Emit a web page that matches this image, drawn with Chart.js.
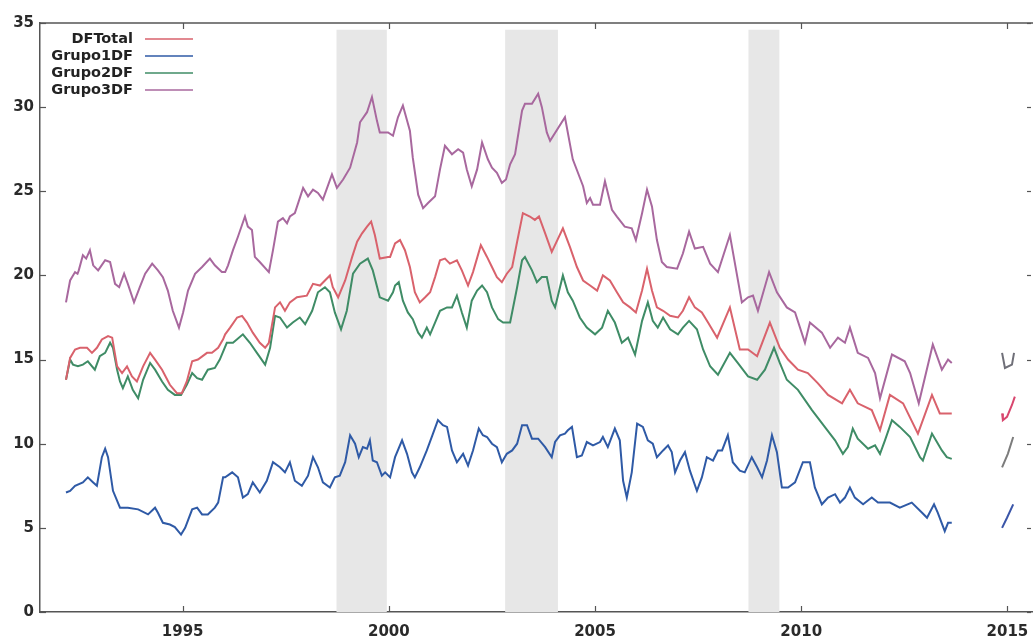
<!DOCTYPE html>
<html>
<head>
<meta charset="utf-8">
<script src="https://cdn.jsdelivr.net/npm/chart.js@4.4.1/dist/chart.umd.min.js"></script>
<style>
html,body{margin:0;padding:0;background:#fff;overflow:hidden}
canvas{display:block}
</style>
</head>
<body>
<canvas id="c" width="1033" height="641"></canvas>
<script>
// ---------- DATA (year, value) ----------
const seriesNames = ['DFTotal', 'Grupo1DF', 'Grupo2DF', 'Grupo3DF'];

const dfTotal = [
[1992.17,13.8],[1992.27,15.1],[1992.39,15.6],[1992.51,15.7],[1992.68,15.7],[1992.80,15.4],[1992.92,15.7],[1993.04,16.2],
[1993.19,16.4],[1993.29,16.3],[1993.41,14.6],[1993.53,14.2],[1993.65,14.6],[1993.77,14.0],[1993.89,13.7],[1994.04,14.6],
[1994.21,15.4],[1994.33,15.0],[1994.50,14.4],[1994.69,13.5],[1994.86,13.0],[1994.98,13.0],[1995.10,13.7],[1995.23,14.9],
[1995.37,15.0],[1995.59,15.4],[1995.71,15.4],[1995.86,15.7],[1995.98,16.2],[1996.03,16.5],[1996.15,16.9],[1996.32,17.5],
[1996.44,17.6],[1996.56,17.2],[1996.70,16.6],[1996.87,16.0],[1997.00,15.7],[1997.09,16.0],[1997.24,18.1],[1997.36,18.4],
[1997.48,17.9],[1997.60,18.4],[1997.77,18.7],[1998.01,18.8],[1998.16,19.5],[1998.33,19.4],[1998.45,19.7],[1998.57,20.0],
[1998.64,19.3],[1998.77,18.7],[1998.94,19.7],[1999.11,21.1],[1999.23,22.0],[1999.35,22.5],[1999.47,22.9],[1999.57,23.2],
[1999.66,22.4],[1999.78,21.0],[1999.98,21.1],[2000.03,21.1],[2000.15,21.9],[2000.27,22.1],[2000.39,21.5],[2000.51,20.5],
[2000.63,19.0],[2000.75,18.4],[2000.88,18.7],[2001.00,19.0],[2001.12,19.9],[2001.24,20.9],[2001.36,21.0],[2001.48,20.7],
[2001.65,20.9],[2001.77,20.3],[2001.92,19.4],[2002.04,20.2],[2002.23,21.8],[2002.38,21.1],[2002.50,20.5],[2002.62,19.9],
[2002.74,19.6],[2002.86,20.1],[2002.99,20.5],[2003.11,22.0],[2003.25,23.7],[2003.42,23.5],[2003.54,23.3],[2003.64,23.5],
[2003.79,22.5],[2003.95,21.4],[2004.22,22.8],[2004.39,21.7],[2004.56,20.5],[2004.71,19.7],[2004.88,19.4],[2005.05,19.1],
[2005.19,20.0],[2005.36,19.7],[2005.53,19.0],[2005.68,18.4],[2005.85,18.1],[2005.99,17.8],[2006.14,19.1],[2006.26,20.4],
[2006.38,19.1],[2006.50,18.1],[2006.65,17.9],[2006.82,17.6],[2007.01,17.5],[2007.13,17.9],[2007.28,18.7],[2007.42,18.1],
[2007.59,17.8],[2007.74,17.2],[2007.96,16.3],[2008.27,18.1],[2008.51,15.6],[2008.71,15.6],[2008.93,15.2],[2009.24,17.2],
[2009.48,15.7],[2009.68,15.0],[2009.92,14.4],[2010.16,14.2],[2010.40,13.6],[2010.65,12.9],[2010.99,12.4],[2011.18,13.2],
[2011.37,12.4],[2011.71,12.0],[2011.91,10.8],[2012.15,12.9],[2012.47,12.4],[2012.83,10.6],[2013.17,12.9],[2013.36,11.8],
[2013.65,11.8]
];

const grupo1DF = [
[1992.17,7.1],[1992.27,7.2],[1992.39,7.5],[1992.58,7.7],[1992.70,8.0],[1992.83,7.7],[1992.92,7.5],[1993.04,9.2],
[1993.12,9.7],[1993.19,9.2],[1993.31,7.2],[1993.48,6.2],[1993.67,6.2],[1993.92,6.1],[1994.16,5.8],[1994.33,6.2],
[1994.40,5.9],[1994.52,5.3],[1994.69,5.2],[1994.81,5.05],[1994.96,4.6],[1995.06,5.0],[1995.23,6.1],[1995.35,6.2],
[1995.47,5.8],[1995.61,5.8],[1995.78,6.2],[1995.86,6.5],[1995.98,8.0],[1996.03,8.0],[1996.20,8.3],[1996.34,8.0],
[1996.46,6.8],[1996.58,7.0],[1996.70,7.7],[1996.87,7.1],[1997.04,7.8],[1997.19,8.9],[1997.36,8.6],[1997.48,8.3],
[1997.60,8.9],[1997.72,7.8],[1997.89,7.5],[1998.04,8.1],[1998.16,9.2],[1998.28,8.6],[1998.40,7.7],[1998.57,7.4],
[1998.69,8.0],[1998.81,8.1],[1998.94,8.9],[1999.06,10.5],[1999.18,10.0],[1999.27,9.2],[1999.37,9.8],[1999.47,9.7],
[1999.54,10.2],[1999.61,9.0],[1999.71,8.9],[1999.83,8.1],[1999.91,8.3],[2000.03,8.0],[2000.15,9.2],[2000.32,10.2],
[2000.44,9.4],[2000.56,8.3],[2000.63,8.0],[2000.75,8.6],[2000.92,9.6],[2001.07,10.6],[2001.19,11.4],[2001.31,11.1],
[2001.41,11.0],[2001.53,9.6],[2001.65,8.9],[2001.80,9.4],[2001.92,8.7],[2002.04,9.6],[2002.18,10.9],[2002.28,10.5],
[2002.38,10.4],[2002.50,10.0],[2002.62,9.8],[2002.74,8.9],[2002.86,9.4],[2002.99,9.6],[2003.11,10.0],[2003.23,11.1],
[2003.35,11.1],[2003.47,10.3],[2003.62,10.3],[2003.79,9.8],[2003.95,9.2],[2004.03,10.1],[2004.15,10.5],[2004.27,10.6],
[2004.34,10.8],[2004.44,11.0],[2004.56,9.2],[2004.68,9.3],[2004.80,10.1],[2004.95,9.9],[2005.12,10.1],[2005.19,10.4],
[2005.31,9.8],[2005.48,10.9],[2005.60,10.2],[2005.68,7.8],[2005.77,6.8],[2005.89,8.3],[2006.02,11.2],[2006.16,11.0],
[2006.28,10.2],[2006.40,10.0],[2006.50,9.2],[2006.65,9.6],[2006.77,9.9],[2006.86,9.5],[2006.94,8.3],[2007.06,9.0],
[2007.18,9.5],[2007.30,8.4],[2007.47,7.2],[2007.59,8.0],[2007.71,9.2],[2007.86,9.0],[2007.98,9.6],[2008.08,9.6],
[2008.22,10.5],[2008.34,8.9],[2008.51,8.4],[2008.63,8.3],[2008.80,9.2],[2008.93,8.6],[2009.05,8.0],[2009.17,9.0],
[2009.29,10.5],[2009.41,9.5],[2009.53,7.4],[2009.68,7.4],[2009.85,7.7],[2010.04,8.9],[2010.21,8.9],[2010.33,7.4],
[2010.50,6.4],[2010.65,6.8],[2010.82,7.0],[2010.94,6.5],[2011.06,6.8],[2011.18,7.4],[2011.30,6.8],[2011.50,6.4],
[2011.71,6.8],[2011.86,6.5],[2012.15,6.5],[2012.39,6.2],[2012.68,6.5],[2012.93,5.9],[2013.05,5.6],[2013.22,6.4],
[2013.31,5.9],[2013.48,4.8],[2013.56,5.3],[2013.65,5.3]
];

const grupo2DF = [
[1992.17,13.8],[1992.27,15.0],[1992.34,14.7],[1992.46,14.6],[1992.58,14.7],[1992.70,14.9],[1992.87,14.4],[1992.99,15.2],
[1993.12,15.4],[1993.24,16.0],[1993.31,15.7],[1993.41,14.4],[1993.48,13.7],[1993.55,13.3],[1993.67,14.0],[1993.79,13.2],
[1993.92,12.7],[1994.04,13.8],[1994.21,14.8],[1994.33,14.4],[1994.50,13.7],[1994.64,13.2],[1994.81,12.9],[1994.96,12.9],
[1995.10,13.5],[1995.23,14.2],[1995.35,13.9],[1995.47,13.8],[1995.61,14.4],[1995.78,14.5],[1995.90,15.0],[1996.07,16.0],
[1996.22,16.0],[1996.46,16.5],[1996.63,16.0],[1996.80,15.4],[1997.00,14.7],[1997.12,15.7],[1997.24,17.6],[1997.36,17.5],
[1997.53,16.9],[1997.67,17.2],[1997.84,17.5],[1997.97,17.1],[1998.14,17.9],[1998.28,19.0],[1998.45,19.3],[1998.57,19.0],
[1998.69,17.8],[1998.84,16.8],[1998.98,17.9],[1999.13,20.1],[1999.30,20.7],[1999.49,21.0],[1999.61,20.3],[1999.78,18.7],
[1999.98,18.5],[2000.10,19.0],[2000.15,19.4],[2000.24,19.6],[2000.34,18.5],[2000.46,17.8],[2000.58,17.4],[2000.71,16.6],
[2000.80,16.3],[2000.92,16.9],[2001.00,16.5],[2001.12,17.2],[2001.24,17.9],[2001.41,18.1],[2001.53,18.1],[2001.65,18.8],
[2001.77,17.8],[2001.89,16.9],[2002.01,18.5],[2002.14,19.1],[2002.26,19.4],[2002.38,19.0],[2002.50,18.1],[2002.65,17.4],
[2002.77,17.2],[2002.94,17.2],[2003.11,19.3],[2003.23,20.9],[2003.30,21.1],[2003.47,20.3],[2003.59,19.6],[2003.71,19.9],
[2003.83,19.9],[2003.95,18.5],[2004.03,18.1],[2004.22,20.0],[2004.34,19.0],[2004.46,18.5],[2004.63,17.5],[2004.80,16.9],
[2005.00,16.5],[2005.17,16.9],[2005.31,17.9],[2005.48,17.2],[2005.65,16.0],[2005.80,16.3],[2005.97,15.3],[2006.14,17.3],
[2006.28,18.4],[2006.40,17.3],[2006.52,16.9],[2006.65,17.5],[2006.82,16.8],[2007.01,16.5],[2007.13,16.9],[2007.28,17.3],
[2007.47,16.8],[2007.62,15.6],[2007.79,14.6],[2007.98,14.1],[2008.27,15.4],[2008.46,14.8],[2008.71,14.0],[2008.93,13.8],
[2009.12,14.4],[2009.34,15.7],[2009.48,14.8],[2009.65,13.8],[2009.92,13.2],[2010.26,12.0],[2010.57,11.0],[2010.82,10.2],
[2011.01,9.4],[2011.13,9.8],[2011.25,10.9],[2011.37,10.3],[2011.62,9.7],[2011.79,9.9],[2011.91,9.4],[2012.03,10.2],
[2012.20,11.4],[2012.39,11.0],[2012.64,10.4],[2012.88,9.2],[2012.95,9.0],[2013.17,10.6],[2013.29,10.1],[2013.41,9.6],
[2013.53,9.2],[2013.65,9.1]
];

const grupo3DF = [
[1992.17,18.4],[1992.27,19.7],[1992.39,20.2],[1992.45,20.1],[1992.48,20.3],[1992.58,21.2],[1992.66,21.0],[1992.75,21.5],
[1992.83,20.6],[1992.95,20.3],[1993.12,20.9],[1993.24,20.8],[1993.36,19.5],[1993.46,19.3],[1993.58,20.1],[1993.67,19.5],
[1993.82,18.4],[1993.96,19.3],[1994.09,20.1],[1994.26,20.7],[1994.40,20.3],[1994.52,19.9],[1994.64,19.1],[1994.76,17.9],
[1994.91,16.9],[1995.01,17.8],[1995.13,19.1],[1995.30,20.1],[1995.47,20.5],[1995.66,21.0],[1995.78,20.6],[1995.95,20.2],
[1996.03,20.2],[1996.10,20.6],[1996.22,21.5],[1996.34,22.3],[1996.51,23.5],[1996.58,22.9],[1996.68,22.7],[1996.75,21.1],
[1996.87,20.8],[1997.09,20.2],[1997.19,21.5],[1997.31,23.2],[1997.43,23.4],[1997.53,23.1],[1997.60,23.5],[1997.72,23.7],
[1997.80,24.3],[1997.92,25.2],[1998.04,24.7],[1998.16,25.1],[1998.28,24.9],[1998.40,24.5],[1998.62,26.0],[1998.74,25.2],
[1998.89,25.7],[1999.06,26.4],[1999.23,27.9],[1999.30,29.1],[1999.47,29.7],[1999.59,30.6],[1999.71,29.2],[1999.78,28.5],
[1999.98,28.5],[2000.10,28.3],[2000.22,29.4],[2000.34,30.1],[2000.51,28.6],[2000.58,27.0],[2000.71,24.8],[2000.83,24.0],
[2000.95,24.3],[2001.12,24.7],[2001.24,26.3],[2001.36,27.7],[2001.53,27.2],[2001.68,27.5],[2001.80,27.3],[2001.89,26.3],
[2002.01,25.3],[2002.14,26.3],[2002.26,27.9],[2002.40,26.9],[2002.50,26.4],[2002.62,26.1],[2002.74,25.5],[2002.84,25.7],
[2002.94,26.6],[2003.06,27.2],[2003.23,29.8],[2003.30,30.2],[2003.47,30.2],[2003.62,30.8],[2003.71,30.0],[2003.83,28.5],
[2003.91,28.0],[2004.27,29.4],[2004.46,26.9],[2004.71,25.3],[2004.80,24.3],[2004.88,24.6],[2004.95,24.2],[2005.12,24.2],
[2005.24,25.6],[2005.41,23.9],[2005.53,23.5],[2005.72,22.9],[2005.89,22.8],[2005.99,22.1],[2006.14,23.7],[2006.26,25.1],
[2006.38,24.1],[2006.50,22.1],[2006.62,20.8],[2006.74,20.5],[2006.99,20.4],[2007.13,21.3],[2007.28,22.6],[2007.42,21.6],
[2007.62,21.7],[2007.79,20.7],[2007.98,20.2],[2008.27,22.4],[2008.56,18.4],[2008.71,18.7],[2008.83,18.8],[2008.95,17.9],
[2009.22,20.2],[2009.41,19.0],[2009.65,18.1],[2009.85,17.8],[2010.09,16.0],[2010.21,17.2],[2010.50,16.6],[2010.70,15.7],
[2010.89,16.3],[2011.06,16.0],[2011.18,16.9],[2011.37,15.4],[2011.62,15.1],[2011.79,14.2],[2011.91,12.7],[2012.20,15.3],
[2012.51,14.9],[2012.64,14.2],[2012.85,12.4],[2013.19,15.9],[2013.41,14.4],[2013.56,15.0],[2013.65,14.8]
];

// stray pieces visible at the right edge of the scan
const fragGrey3 = [[2014.87,15.4],[2014.94,14.5],[2015.11,14.7],[2015.16,15.4]];
const fragRed = [[2014.87,11.8],[2014.89,11.4],[2014.99,11.6],[2015.11,12.3],[2015.18,12.8]];
const fragGrey2 = [[2014.87,8.6],[2015.01,9.4],[2015.14,10.4]];
const fragBlue = [[2014.87,5.0],[2014.99,5.6],[2015.14,6.4]];

// shaded periods
const bandStarts = [1998.73, 2002.82, 2008.72];
const bandEnds   = [1999.95, 2004.10, 2009.47];
const bandTop = 34.6;

const xTickYears = [1995, 2000, 2005, 2010, 2015];
const yTickValues = [0, 5, 10, 15, 20, 25, 30, 35];

// ---------- CHART ----------
const COLORS = {
  DFTotal: '#d9626c',
  Grupo1DF: '#2f5aa6',
  Grupo2DF: '#3f8c66',
  Grupo3DF: '#a8689e'
};
const toXY = arr => arr.map(p => ({x: p[0], y: p[1]}));
const mk = (label, arr, color) => ({
  label, data: toXY(arr), borderColor: color, backgroundColor: color,
  borderWidth: 2, pointRadius: 0, tension: 0, fill: false
});

const datasets = [
  mk('Grupo3DF', grupo3DF, COLORS.Grupo3DF),
  mk('DFTotal', dfTotal, COLORS.DFTotal),
  mk('Grupo2DF', grupo2DF, COLORS.Grupo2DF),
  mk('Grupo1DF', grupo1DF, COLORS.Grupo1DF),
  mk('', fragGrey3, '#6f6f78'),
  mk('', fragRed, '#d8466e'),
  mk('', fragGrey2, '#7c7c7c'),
  mk('', fragBlue, '#3a55a8')
];

const AXIS = '#555555';
const FONT = '"DejaVu Sans", Verdana, sans-serif';

const framePlugin = {
  id: 'frame',
  beforeDatasetsDraw(chart) {
    const {ctx, scales: {x, y}} = chart;
    ctx.save();
    ctx.fillStyle = '#e7e7e7';
    bandStarts.forEach((s, i) => {
      const x0 = x.getPixelForValue(s), x1 = x.getPixelForValue(bandEnds[i]);
      const yt = y.getPixelForValue(bandTop), yb = y.getPixelForValue(0);
      ctx.fillRect(x0, yt, x1 - x0, yb - yt);
    });
    ctx.restore();
  },
  afterDatasetsDraw(chart) {
    const {ctx, chartArea: ca, scales: {x, y}} = chart;
    ctx.save();
    ctx.strokeStyle = AXIS;
    ctx.lineWidth = 1.5;
    ctx.beginPath(); ctx.moveTo(ca.left, ca.top); ctx.lineTo(ca.right, ca.top); ctx.stroke();
    ctx.lineWidth = 1.2;
    xTickYears.forEach(v => {
      const px = Math.round(x.getPixelForValue(v)) + 0.5;
      ctx.beginPath(); ctx.moveTo(px, ca.bottom); ctx.lineTo(px, ca.bottom - 6); ctx.stroke();
      ctx.beginPath(); ctx.moveTo(px, ca.top); ctx.lineTo(px, ca.top + 6); ctx.stroke();
    });
    yTickValues.forEach(v => {
      const py = Math.round(y.getPixelForValue(v)) + 0.5;
      ctx.beginPath(); ctx.moveTo(ca.left, py); ctx.lineTo(ca.left + 6, py); ctx.stroke();
      ctx.beginPath(); ctx.moveTo(ca.right - 2, py); ctx.lineTo(ca.right - 6, py); ctx.stroke();
    });
    // legend
    ctx.font = 'bold 14.5px ' + FONT;
    ctx.textAlign = 'right';
    ctx.textBaseline = 'middle';
    seriesNames.forEach((name, i) => {
      const ds = chart.data.datasets.find(d => d.label === name);
      const yy = 39 + i * 17;
      ctx.fillStyle = '#222';
      ctx.fillText(name, 133, yy);
      ctx.strokeStyle = ds.borderColor;
      ctx.lineWidth = 1.6;
      ctx.beginPath(); ctx.moveTo(145, yy); ctx.lineTo(193, yy); ctx.stroke();
    });
    ctx.restore();
  }
};

new Chart(document.getElementById('c'), {
  type: 'line',
  data: { datasets },
  options: {
    responsive: false,
    devicePixelRatio: 1,
    animation: false,
    layout: { padding: { top: 23, right: 0, left: 0, bottom: 0 } },
    plugins: { legend: { display: false }, tooltip: { enabled: false } },
    scales: {
      x: {
        type: 'linear',
        min: 1991.54,
        max: 2015.62,
        afterBuildTicks: s => { s.ticks = xTickYears.map(v => ({value: v})); },
        afterFit: s => { s.height = 29; s.paddingLeft = 0; s.paddingRight = 0; },
        grid: { display: false, drawTicks: false },
        border: { display: true, color: AXIS, width: 1.5 },
        ticks: {
          padding: 11,
          color: '#2a2a2a',
          font: { family: FONT, weight: 'bold', size: 15 },
          maxRotation: 0,
          callback: v => String(v)
        }
      },
      y: {
        type: 'linear',
        min: 0,
        max: 35,
        afterBuildTicks: s => { s.ticks = yTickValues.map(v => ({value: v})); },
        afterFit: s => { s.width = 40; s.paddingTop = 0; s.paddingBottom = 0; },
        grid: { display: false, drawTicks: false },
        border: { display: true, color: AXIS, width: 1.5 },
        ticks: {
          padding: 6,
          color: '#2a2a2a',
          font: { family: FONT, weight: 'bold', size: 15 }
        }
      }
    }
  },
  plugins: [framePlugin]
});
</script>
</body>
</html>
